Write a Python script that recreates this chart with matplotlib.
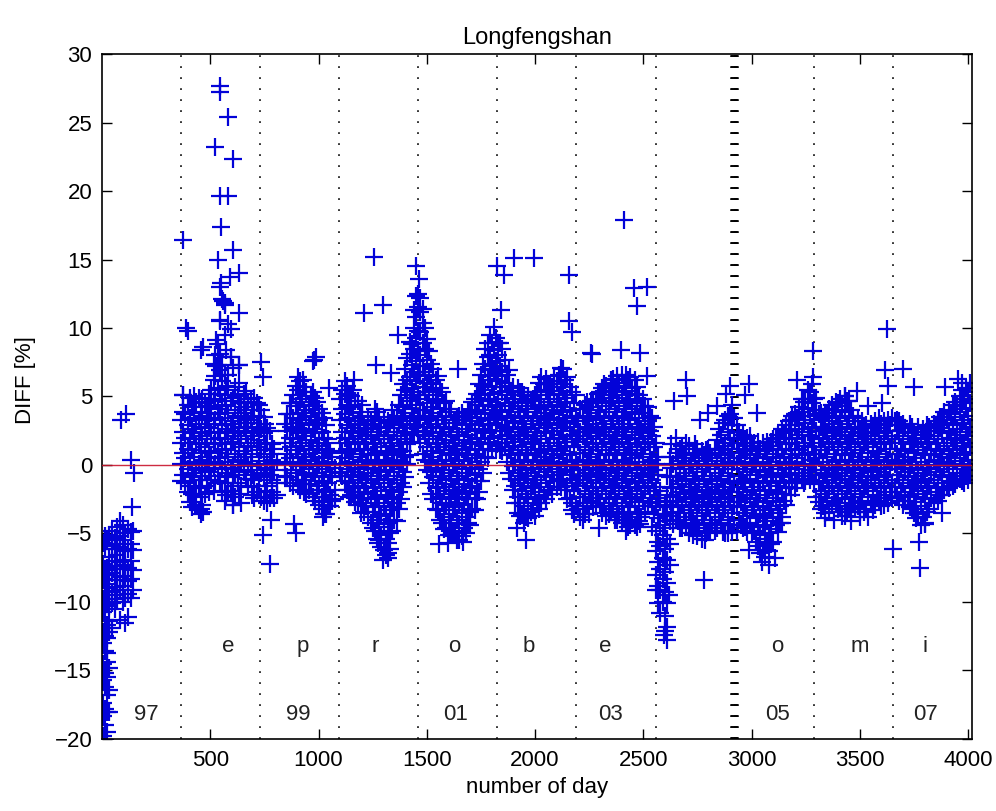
import matplotlib
matplotlib.use("Agg")
import matplotlib.pyplot as plt

# ---------------------------------------------------------------
# DIFF [%] readings grouped by year (day 0 = 1 January 1997);
# every day entry lists the values recorded around that day
# ---------------------------------------------------------------
days_1997 = [5, 12, 22, 32, 45, 58, 70, 82, 95, 108, 120, 132, 145]
diff_1997 = [
    [-19.8, -18.3, -17.4, -15.7, -14.5, -13.0, -12.2, -10.7, -9.8, -8.3, -7.2, -5.7],
    [-20.1, -19.0, -17.8, -16.2, -15.2, -13.6, -12.5, -11.3, -10.2, -9.0, -7.7, -6.1, -5.2],
    [-19.5, -18.0, -16.8, -15.5, -14.4, -13.7, -12.6, -11.7, -10.0, -8.7, -7.5, -5.5],
    [-18.0, -16.4, -14.8, -12.2, -11.4, -10.3, -9.2, -8.0, -6.7, -5.1],
    [-11.9, -10.1, -9.3, -7.9, -7.0, -5.9, -4.8],
    [-10.5, -9.5, -8.4, -7.4, -6.1, -5.3],
    [-9.8, -8.9, -7.6, -6.6, -5.8, -4.5],
    [-11.3, -9.1, -8.2, -7.1, -6.0, -5.2, -4.1],
    [-10.0, -8.8, -7.4, -6.9, -5.5, -4.4],
    [-11.5, -9.7, -8.1, -7.3, -6.3, -5.0],
    [-11.1, -9.4, -8.5, -7.5, -6.1, -4.7],
    [-9.7, -8.3, -7.0, -5.8, -4.9],
    [-9.1, -7.7, -6.2, -4.8],
]

days_1998 = [366, 376, 385, 396, 405, 414, 426, 435, 446, 455, 464, 476, 485, 494, 505,
             516, 524, 535, 546, 554, 566, 575, 584, 596, 605, 614, 626, 635, 644, 656,
             665, 674, 686, 695, 704, 716, 725, 734, 746, 755, 764, 776, 785, 794, 806]
diff_1998 = [
    [-1.2, 0.1, 1.6, 3.3], [-0.7, 0.9, 2.4, 3.9, 5.1], [-1.3, 0.5, 2.0, 3.7],
    [-2.0, -0.3, 1.2, 2.9, 4.4], [-2.7, -1.5, 0.2, 1.9, 3.4, 4.9], [-3.1, -2.1, -0.6, 1.1, 2.6, 4.2],
    [-2.2, -0.9, 0.6, 2.3, 3.8, 5.0], [-2.9, -1.7, -0.2, 1.5, 3.0, 4.6],
    [-3.3, -1.6, 0.1, 1.6, 3.3, 4.9], [-3.6, -2.3, -0.8, 0.9, 2.4, 3.9],
    [-2.9, -1.1, 0.4, 2.1, 3.6, 4.8], [-2.1, -0.4, 1.3, 2.8, 4.5],
    [-1.5, 0.2, 1.9, 3.4, 4.3], [-2.0, -0.5, 1.0, 2.7, 4.2, 5.2],
    [-1.1, 0.6, 2.3, 3.8, 5.5], [-1.9, -0.2, 1.5, 3.0, 4.7, 6.2, 7.4],
    [-1.3, 0.1, 1.6, 3.3, 4.8, 6.5, 8.0], [-0.8, 0.9, 2.4, 4.1, 5.6, 7.3, 8.8],
    [-1.2, 0.5, 2.0, 3.7, 5.2, 6.9, 8.1, 10.5], [-2.0, -0.3, 1.2, 2.9, 4.4, 6.1, 7.3, 12.1],
    [-2.6, -1.3, 0.2, 1.9, 3.4, 5.1, 6.6, 9.5, 11.8], [-2.2, -0.6, 1.1, 2.6, 4.3, 5.8, 8.4],
    [-1.9, -0.9, 0.6, 2.3, 3.8, 5.5, 6.6, 10.3], [-1.9, -0.2, 1.5, 3.0, 4.7, 7.9],
    [-2.9, -1.5, 0.0, 1.7, 3.2, 4.9, 7.1], [-2.3, -0.7, 0.8, 2.5, 4.0, 5.7],
    [-1.3, 0.4, 2.1, 3.6, 5.0], [-2.1, -0.4, 1.3, 2.8, 4.5, 6.0, 7.3],
    [-1.5, 0.2, 1.9, 3.4, 4.5], [-0.5, 1.0, 2.7, 4.2, 5.2], [-1.0, 0.6, 2.3, 3.8, 5.4],
    [-1.6, -0.1, 1.4, 3.1, 4.6], [-1.0, 0.1, 1.6, 3.3, 4.8], [-2.2, -0.7, 0.8, 2.5, 4.0],
    [-2.4, -1.1, 2.1, 3.6, 4.9], [-2.0, -0.4, 1.3, 2.8, 4.5], [-1.5, 0.3, 1.8, 3.5, 4.4],
    [-2.3, -0.6, 1.1, 2.6, 4.0], [-2.6, -0.9, 0.6, 2.3, 3.5], [-1.9, -0.2, 1.5, 3.0],
    [-2.8, -1.5, 0.1, 1.6, 2.7], [-2.4, -0.7, 0.8, 2.5], [-2.0, -1.1, 0.4, 1.5],
    [-2.4, -0.4, 1.2], [-2.2, -1.3, 0.2],
]

days_1999 = [846, 855, 866, 875, 884, 896, 905, 914, 926, 935, 944, 956, 965, 974, 986,
             995, 1004, 1016, 1025, 1034, 1046, 1055, 1064, 1074]
diff_1999 = [
    [-0.8, 0.1, 1.6, 3.0], [-0.9, 0.8, 2.5, 3.7], [-1.3, 0.5, 2.0, 3.7, 4.5],
    [-0.4, 1.3, 2.8, 4.5], [-1.5, 0.2, 1.9, 3.4, 5.1], [-0.6, 1.1, 2.6, 4.3, 5.8],
    [-1.1, 0.6, 2.3, 3.8, 5.5, 6.4], [-1.8, -0.1, 1.4, 3.1, 4.6, 6.1],
    [-1.4, 0.1, 1.6, 3.3, 4.8], [-2.0, -0.7, 0.8, 2.5, 4.0, 5.7],
    [-2.1, -1.1, 0.4, 2.1, 3.6, 5.3], [-1.8, -0.3, 1.2, 2.9, 4.4],
    [-1.4, 0.3, 1.8, 3.5, 5.0], [-2.3, -0.6, 1.1, 2.6, 4.3, 5.3],
    [-2.6, -0.9, 0.6, 2.3, 3.8, 4.9], [-1.8, -0.1, 1.4, 3.1, 4.6],
    [-2.9, -1.5, 0.1, 1.6, 3.3, 4.1], [-3.2, -2.3, -0.8, 0.9, 2.4, 3.8],
    [-3.6, -2.7, -1.2, 0.5, 2.0, 3.4], [-3.6, -2.0, -0.3, 1.2, 2.9],
    [-3.0, -1.3, 0.2, 1.9], [-3.0, -2.2, -0.5, 1.0], [-2.6, -0.9, 0.6],
    [-2.5, -1.8, -0.2],
]

days_2000 = [1100, 1109, 1121, 1130, 1139, 1151, 1160, 1169, 1181, 1190, 1199, 1211, 1220,
             1229, 1241, 1250, 1259, 1271, 1280, 1289, 1301, 1310, 1319, 1331, 1340, 1349,
             1361, 1370, 1379, 1391, 1400, 1409, 1421, 1430, 1439, 1451, 1458]
diff_2000 = [
    [-0.6, 0.1, 1.6, 3.3, 4.8], [-0.8, 0.9, 2.4, 4.1, 5.5], [-1.2, 0.5, 2.0, 3.7, 5.2, 6.1],
    [-1.8, -0.3, 1.2, 2.9, 4.4, 5.8], [-2.3, -1.3, 0.2, 1.9, 3.4, 5.1],
    [-2.2, -0.5, 1.0, 2.7, 4.2, 5.0], [-2.0, -0.9, 0.6, 2.3, 3.8, 5.5],
    [-2.7, -1.7, -0.2, 1.5, 3.0, 4.7], [-2.9, -1.5, 0.0, 1.7, 3.2, 4.7],
    [-2.4, -0.7, 0.8, 2.5, 3.9], [-2.8, -1.1, 0.4, 2.1, 3.6, 4.4],
    [-3.4, -2.0, -0.3, 1.2, 2.9], [-3.0, -1.3, 0.2, 1.9, 2.7],
    [-3.8, -2.1, -0.6, 1.1, 2.6, 3.5], [-4.2, -2.5, -1.0, 0.7, 2.2, 3.2],
    [-4.6, -3.4, -1.7, -0.2, 1.5, 3.0], [-4.8, -3.1, -1.6, 0.1, 1.6, 3.3, 4.1],
    [-5.4, -4.0, -2.3, -0.8, 0.9, 2.4, 3.9], [-5.5, -4.3, -2.8, -1.1, 0.4, 2.1, 3.5],
    [-6.0, -5.1, -3.6, -1.9, -0.4, 1.3, 2.8], [-6.2, -4.5, -3.0, -1.3, 0.2, 1.9, 3.3],
    [-6.6, -5.4, -3.7, -2.2, -0.5, 1.0, 2.7], [-6.4, -5.7, -4.2, -2.5, -1.0, 0.7, 2.2, 3.2],
    [-6.1, -5.0, -3.3, -1.8, -0.1, 1.4, 3.1], [-4.8, -3.1, -1.6, 0.1, 1.6, 3.3, 4.0],
    [-4.0, -2.3, -0.8, 0.9, 2.4, 3.3], [-4.1, -2.8, -1.1, 0.4, 2.1, 3.6],
    [-3.2, -2.0, -0.3, 1.2, 2.9, 4.4], [-2.5, -1.3, 0.2, 1.9, 3.4, 5.1],
    [-1.6, -0.5, 1.0, 2.7, 4.2, 5.9], [-0.9, 0.6, 2.3, 3.8, 5.5, 7.0],
    [0.1, 1.5, 3.0, 4.7, 6.2, 7.8], [0.7, 1.7, 3.2, 4.9, 6.4, 8.1, 9.0],
    [2.4, 4.1, 5.6, 7.3, 8.8], [2.2, 3.6, 5.3, 6.8, 8.5, 10.0, 11.3],
    [2.9, 4.4, 6.1, 7.6, 9.3, 10.8, 12.3], [2.4, 3.4, 5.1, 6.6, 8.3, 9.8, 11.5, 12.5],
]

days_2001 = [1469, 1481, 1490, 1499, 1511, 1520, 1529, 1541, 1550, 1559, 1571, 1580, 1589,
             1601, 1610, 1619, 1631, 1640, 1649, 1661, 1670, 1679, 1691, 1700, 1709, 1721,
             1730, 1739, 1751, 1760, 1769, 1781, 1790, 1799, 1811, 1820]
diff_2001 = [
    [1.6, 3.3, 4.8, 6.5, 8.0, 9.7, 11.2, 12.2], [0.8, 2.5, 4.0, 5.7, 7.2, 8.9, 10.4, 11.4],
    [0.4, 2.1, 3.6, 5.3, 6.8, 8.5, 10.0], [-0.4, 1.3, 2.8, 4.5, 6.0, 7.7, 9.2],
    [-1.3, 0.2, 1.9, 3.4, 5.1, 6.6, 8.3], [-2.1, -0.5, 1.0, 2.7, 4.2, 5.9, 7.4],
    [-2.5, -0.9, 0.6, 2.3, 3.8, 5.5, 7.0], [-3.2, -1.7, -0.2, 1.5, 3.0, 4.7, 6.2],
    [-3.3, -1.6, 0.1, 1.6, 3.3, 4.8, 6.5], [-4.0, -2.3, -0.8, 0.9, 2.4, 4.1, 5.6],
    [-4.2, -2.8, -1.1, 0.4, 2.1, 3.6, 5.3], [-4.7, -3.6, -1.9, -0.4, 1.3, 2.8, 4.5],
    [-4.6, -2.9, -1.4, 0.3, 1.8, 3.5, 4.7], [-5.1, -3.8, -2.1, -0.6, 1.1, 2.6, 4.1],
    [-5.1, -4.2, -2.5, -1.0, 0.7, 2.2, 3.9], [-5.0, -3.3, -1.8, -0.1, 1.4, 3.1],
    [-4.8, -3.1, -1.6, 0.1, 1.6, 3.3], [-5.5, -4.0, -2.3, -0.8, 0.9, 2.4, 3.5],
    [-5.5, -4.3, -2.8, -1.1, 0.4, 2.1, 3.6], [-5.2, -3.5, -2.0, -0.3, 1.2, 2.9, 3.8],
    [-4.6, -2.9, -1.4, 0.3, 1.8, 3.5], [-5.0, -3.8, -2.1, -0.6, 1.1, 2.6, 3.5],
    [-4.2, -2.5, -1.0, 0.7, 2.2, 3.9], [-4.4, -3.4, -1.7, -0.2, 1.5, 3.0, 4.0],
    [-3.2, -1.5, 0.0, 1.7, 3.2, 4.6], [-3.3, -2.4, -0.7, 0.8, 2.5, 4.0, 4.8],
    [-2.5, -1.2, 0.5, 2.0, 3.7, 5.2], [-2.0, -0.3, 1.2, 2.9, 4.4, 5.9],
    [-1.2, 0.2, 1.9, 3.4, 5.1, 6.6], [-0.6, 1.1, 2.6, 4.3, 5.8, 7.4],
    [0.6, 2.3, 3.8, 5.5, 7.0, 8.5], [0.5, 1.5, 3.0, 4.7, 6.2, 7.9, 8.9],
    [1.6, 3.3, 4.8, 6.5, 8.0, 9.5], [1.1, 2.5, 4.0, 5.7, 7.2, 8.9],
    [2.0, 3.7, 5.2, 6.9, 8.4, 10.1], [1.2, 2.9, 4.4, 6.1, 7.6, 9.3],
]

days_2002 = [1831, 1840, 1849, 1861, 1870, 1879, 1891, 1900, 1909, 1921, 1930, 1939, 1951,
             1960, 1969, 1981, 1990, 1999, 2011, 2020, 2029, 2041, 2050, 2059, 2071, 2080,
             2089, 2101, 2110, 2119, 2131, 2140, 2149, 2161, 2170, 2179, 2189]
diff_2002 = [
    [1.6, 3.3, 4.8, 6.5, 8.0, 8.9], [1.1, 2.5, 4.0, 5.7, 7.2, 8.9], [1.0, 2.1, 3.6, 5.3, 6.8, 8.5],
    [1.3, 2.8, 4.5, 6.0, 7.7], [0.2, 1.9, 3.4, 5.1, 6.6], [-0.6, 1.1, 2.6, 4.3, 5.8, 6.9],
    [-1.0, 0.7, 2.2, 3.9, 5.4], [-1.8, -0.1, 1.4, 3.1, 4.6, 5.7],
    [-2.8, -1.5, 0.0, 1.7, 3.2, 4.8], [-3.5, -2.3, -0.8, 0.9, 2.4, 4.1, 5.6],
    [-3.7, -2.8, -1.1, 0.4, 2.1, 3.6, 5.3], [-3.6, -1.9, -0.4, 1.3, 2.8, 4.5, 5.3],
    [-4.2, -3.0, -1.3, 0.2, 1.9, 3.4, 5.1], [-3.8, -2.1, -0.6, 1.1, 2.6, 4.3],
    [-3.9, -2.5, -1.0, 0.7, 2.2, 3.9, 5.0], [-3.4, -1.7, -0.2, 1.5, 3.0, 4.7],
    [-3.2, -1.5, 0.0, 1.7, 3.2, 4.8], [-3.7, -2.3, -0.8, 0.9, 2.4, 4.1, 5.1],
    [-2.8, -1.1, 0.4, 2.1, 3.6, 5.3], [-3.2, -2.0, -0.3, 1.2, 2.9, 4.4, 6.0],
    [-2.8, -1.3, 0.2, 1.9, 3.4, 5.1, 6.4], [-2.2, -0.5, 1.0, 2.7, 4.2, 5.9],
    [-2.5, -0.9, 0.6, 2.3, 3.8, 5.5, 6.3], [-1.8, -0.1, 1.4, 3.1, 4.6, 5.9],
    [-1.6, 0.1, 1.6, 3.3, 4.8, 5.9], [-2.1, -0.7, 0.8, 2.5, 4.0, 5.7],
    [-1.2, 0.5, 2.0, 3.7, 5.2, 6.5], [-1.6, -0.3, 1.2, 2.9, 4.4, 6.1],
    [-1.2, 0.2, 1.9, 3.4, 5.1, 6.6], [-1.6, -0.5, 1.0, 2.7, 4.2, 5.9, 7.1],
    [-1.0, 0.7, 2.2, 3.9, 5.4, 7.0], [-1.8, -0.1, 1.4, 3.1, 4.6, 6.2],
    [-2.5, -1.5, 0.0, 1.7, 3.2, 4.9, 6.4], [-2.4, -0.7, 0.8, 2.5, 4.0, 5.7],
    [-2.8, -1.1, 0.4, 2.1, 3.6, 5.3], [-3.6, -1.9, -0.4, 1.3, 2.8, 4.5],
    [-3.0, -1.3, 0.2, 1.9, 3.4, 5.1],
]

days_2003 = [2200, 2209, 2221, 2230, 2239, 2251, 2260, 2269, 2281, 2290, 2299, 2311, 2320,
             2329, 2341, 2350, 2359, 2371, 2380, 2389, 2401, 2410, 2419, 2431, 2440, 2449,
             2461, 2470, 2479, 2491, 2500, 2509, 2521, 2530, 2539, 2550]
diff_2003 = [
    [-3.2, -1.5, 0.0, 1.7, 3.2], [-3.8, -2.3, -0.8, 0.9, 2.4, 4.1],
    [-4.0, -2.8, -1.1, 0.4, 2.1, 3.6], [-3.6, -1.9, -0.4, 1.3, 2.8, 4.4],
    [-3.0, -1.3, 0.2, 1.9, 3.4, 4.6], [-3.6, -2.1, -0.6, 1.1, 2.6, 4.2],
    [-2.6, -0.9, 0.6, 2.3, 3.8, 4.7], [-3.1, -1.7, -0.2, 1.5, 3.0, 4.6],
    [-2.8, -1.6, 0.1, 1.6, 3.3, 4.8], [-2.4, -0.7, 0.8, 2.5, 4.0, 5.2],
    [-2.8, -1.1, 0.4, 2.1, 3.6, 5.3], [-3.5, -1.9, -0.4, 1.3, 2.8, 4.5, 5.6],
    [-3.0, -1.3, 0.2, 1.9, 3.4, 5.1, 5.9], [-3.7, -2.1, -0.6, 1.1, 2.6, 4.3, 5.8],
    [-3.6, -2.5, -1.0, 0.7, 2.2, 3.9, 5.4], [-3.4, -1.7, -0.2, 1.5, 3.0, 4.7, 6.0],
    [-3.2, -1.5, 0.0, 1.7, 3.2, 4.9, 6.3], [-4.0, -2.3, -0.8, 0.9, 2.4, 4.1, 5.6],
    [-4.0, -2.8, -1.1, 0.4, 2.1, 3.6, 5.3, 6.5], [-3.6, -1.9, -0.4, 1.3, 2.8, 4.5, 6.0],
    [-4.2, -3.0, -1.3, 0.2, 1.9, 3.4, 5.1, 6.6], [-3.8, -2.1, -0.6, 1.1, 2.6, 4.3, 5.8],
    [-4.2, -2.5, -1.0, 0.7, 2.2, 3.9, 5.4, 6.6], [-4.5, -3.4, -1.7, -0.2, 1.5, 3.0, 4.7, 6.2],
    [-4.4, -3.1, -1.6, 0.1, 1.6, 3.3, 4.8, 6.4], [-4.0, -2.3, -0.8, 0.9, 2.4, 4.1, 5.6],
    [-4.4, -2.7, -1.2, 0.5, 2.0, 3.7, 5.2, 6.2], [-4.5, -3.6, -1.9, -0.4, 1.3, 2.8, 4.5, 5.7],
    [-4.1, -3.0, -1.3, 0.2, 1.9, 3.4, 5.1], [-3.8, -2.1, -0.6, 1.1, 2.6, 4.3],
    [-2.6, -0.9, 0.6, 2.3, 3.8, 4.8], [-3.4, -1.7, -0.2, 1.5, 3.0, 4.3],
    [-3.0, -1.5, 0.0, 1.7, 3.2, 4.2], [-2.4, -0.7, 0.8, 2.5, 3.6],
    [-2.8, -1.1, 0.4, 2.1, 3.4], [-3.6, -1.9, -0.4, 1.3, 2.8],
]

days_2004 = [2560, 2570, 2579, 2591, 2600, 2609, 2621, 2630, 2639, 2651, 2660, 2669, 2681,
             2690, 2699, 2711, 2720, 2729, 2741, 2750, 2759, 2771, 2780, 2789, 2801, 2810,
             2819, 2831, 2840, 2849, 2861, 2870, 2879, 2891, 2900, 2909, 2920]
diff_2004 = [
    [-9.1, -8.0, -6.3, -4.8, -3.1, -1.6, 0.1, 1.6], [-10.1, -8.8, -7.1, -5.6, -3.9, -2.4, -0.7, 0.6],
    [-10.8, -9.1, -7.6, -5.9, -4.4, -2.7, -1.9], [-10.0, -8.3, -6.8, -5.1, -3.6],
    [-12.1, -11.0, -9.3, -7.8, -6.1, -4.6, -2.9],
    [-12.8, -11.8, -10.1, -8.6, -6.9, -5.4, -3.7, -2.2, -0.8],
    [-7.3, -5.8, -4.1, -2.6, -0.9, 0.6], [-3.4, -1.7, -0.2, 1.5],
    [-4.3, -3.1, -1.6, 0.1], [-4.0, -2.3, -0.8, 0.9, 2.0], [-4.1, -2.7, -1.2, 0.5],
    [-4.6, -3.5, -2.0, -0.3, 1.2], [-4.6, -2.9, -1.4, 0.3, 1.4], [-3.8, -2.1, -0.6, 0.7],
    [-4.2, -2.5, -1.0, 0.7, 1.6], [-5.0, -3.3, -1.8, -0.1, 1.4], [-4.5, -3.1, -1.6, 0.1],
    [-5.1, -4.0, -2.3, -0.8, 0.9], [-4.4, -2.7, -1.2, 0.5, 1.5], [-5.2, -3.5, -2.0, -0.3, 1.2],
    [-4.6, -2.9, -1.4, 0.3], [-5.4, -3.7, -2.2, -0.5, 1.0], [-4.2, -2.5, -1.0, 0.7],
    [-5.0, -3.3, -1.8, -0.1, 1.1], [-4.8, -3.1, -1.6, 0.1, 1.2], [-4.9, -4.0, -2.3, -0.8, 0.9],
    [-4.4, -2.7, -1.2, 0.5], [-4.8, -3.5, -2.0, -0.3, 1.2], [-4.6, -2.9, -1.4, 0.3, 1.8],
    [-3.8, -2.1, -0.6, 1.1, 2.6], [-4.2, -2.5, -1.0, 0.7, 2.2],
    [-4.9, -3.3, -1.8, -0.1, 1.4, 3.1], [-4.8, -3.1, -1.6, 0.1, 1.6, 3.3],
    [-5.0, -4.0, -2.3, -0.8, 0.9, 2.4, 3.6], [-4.4, -2.7, -1.2, 0.5, 2.0, 3.7],
    [-4.9, -3.5, -2.0, -0.3, 1.2, 2.9, 4.4], [-4.4, -3.0, -1.3, 0.2, 1.9, 3.4],
]

days_2005 = [2931, 2940, 2949, 2961, 2970, 2979, 2991, 3000, 3009, 3021, 3030, 3039, 3051,
             3060, 3069, 3081, 3090, 3099, 3111, 3120, 3129, 3141, 3150, 3159, 3171, 3180,
             3189, 3201, 3210, 3219, 3231, 3240, 3249, 3261, 3270, 3279]
diff_2005 = [
    [-4.8, -3.1, -1.6, 0.1, 1.6, 2.9], [-4.0, -2.3, -0.8, 0.9, 2.4], [-4.4, -2.7, -1.2, 0.5, 2.0],
    [-4.6, -3.5, -2.0, -0.3, 1.2, 2.2], [-4.5, -3.0, -1.3, 0.2, 1.9],
    [-4.9, -3.7, -2.2, -0.5, 1.0, 2.0], [-4.2, -2.5, -1.0, 0.7, 2.1],
    [-5.0, -3.3, -1.8, -0.1, 1.4], [-4.8, -3.1, -1.6, 0.1, 1.6], [-5.6, -3.9, -2.4, -0.7, 0.8],
    [-5.9, -4.4, -2.7, -1.2, 0.5, 1.7], [-6.4, -5.1, -3.6, -1.9, -0.4, 1.2],
    [-6.2, -4.5, -3.0, -1.3, 0.2, 1.6], [-6.7, -5.4, -3.7, -2.2, -0.5, 1.0],
    [-5.8, -4.1, -2.6, -0.9, 0.6, 1.7], [-6.3, -5.0, -3.3, -1.8, -0.1, 1.4],
    [-5.8, -4.7, -3.2, -1.5, 0.0, 1.7], [-5.6, -3.9, -2.4, -0.7, 0.8, 1.9],
    [-4.4, -2.7, -1.2, 0.5, 2.0], [-4.9, -3.5, -2.0, -0.3, 1.2, 2.2],
    [-4.2, -3.0, -1.3, 0.2, 1.9], [-3.8, -2.1, -0.6, 1.1, 2.6], [-2.6, -0.9, 0.6, 2.3],
    [-2.9, -1.7, -0.2, 1.5, 2.9], [-1.6, 0.1, 1.6, 3.2], [-2.2, -0.7, 0.8, 2.5, 3.3],
    [-1.2, 0.5, 2.0, 3.6], [-1.7, -0.3, 1.2, 2.9, 3.7], [-1.3, 0.2, 1.9, 3.4],
    [-0.6, 1.1, 2.6, 4.2], [-1.0, 0.7, 2.2, 3.9, 4.8], [-1.3, -0.1, 1.4, 3.1, 4.6],
    [-1.2, 0.1, 1.6, 3.3, 4.8], [-0.8, 0.9, 2.4, 4.1, 5.5], [-1.1, 0.4, 2.1, 3.6, 5.3],
    [-0.4, 1.3, 2.8, 4.5, 5.9],
]

days_2006 = [3290, 3299, 3311, 3320, 3329, 3341, 3350, 3359, 3371, 3380, 3389, 3401, 3410,
             3419, 3431, 3440, 3449, 3461, 3470, 3479, 3491, 3500, 3509, 3521, 3530, 3539,
             3551, 3560, 3569, 3581, 3590, 3599, 3611, 3620, 3629, 3641, 3650]
diff_2006 = [
    [-1.4, 0.1, 1.6, 3.3, 4.8], [-2.3, -0.7, 0.8, 2.5, 4.0, 4.9], [-2.7, -1.2, 0.5, 2.0, 3.7],
    [-3.2, -1.9, -0.4, 1.3, 2.8, 3.8], [-3.0, -1.3, 0.2, 1.9, 3.4],
    [-3.5, -2.1, -0.6, 1.1, 2.6, 3.8], [-2.6, -0.9, 0.6, 2.3, 3.8],
    [-3.4, -1.7, -0.2, 1.5, 3.0, 4.1], [-2.9, -1.5, 0.0, 1.7, 3.2, 4.4],
    [-2.4, -0.7, 0.8, 2.5, 4.0], [-2.8, -1.1, 0.4, 2.1, 3.6, 4.6],
    [-3.2, -1.9, -0.4, 1.3, 2.8, 4.5], [-3.0, -1.3, 0.2, 1.9, 3.4, 4.8],
    [-3.7, -2.1, -0.6, 1.1, 2.6, 4.3], [-3.7, -2.5, -1.0, 0.7, 2.2, 3.9, 5.0],
    [-3.4, -1.7, -0.2, 1.5, 3.0, 4.7], [-3.2, -1.5, 0.0, 1.7, 3.2, 4.7],
    [-3.4, -2.3, -0.8, 0.9, 2.4, 4.0], [-2.8, -1.1, 0.4, 2.1, 3.6],
    [-3.1, -1.9, -0.4, 1.3, 2.8], [-3.0, -1.3, 0.2, 1.9, 3.4], [-3.4, -2.1, -0.6, 1.1, 2.6],
    [-2.6, -0.9, 0.6, 2.3, 3.2], [-3.4, -1.7, -0.2, 1.5, 2.8], [-3.2, -1.5, 0.0, 1.7, 2.9],
    [-3.8, -2.3, -0.8, 0.9, 2.4], [-2.8, -1.1, 0.4, 2.1, 3.0], [-3.3, -1.9, -0.4, 1.3, 2.8],
    [-2.9, -1.3, 0.2, 1.9, 3.2], [-2.2, -0.5, 1.0, 2.7], [-2.6, -0.9, 0.6, 2.3, 3.4],
    [-3.0, -1.7, -0.2, 1.5, 3.0], [-2.9, -1.5, 0.0, 1.7, 3.2], [-2.4, -0.7, 0.8, 2.5],
    [-2.8, -1.1, 0.4, 2.1, 3.3], [-2.0, -0.3, 1.2, 2.9], [-2.4, -1.3, 0.2, 1.9, 3.4],
]

days_2007 = [3661, 3670, 3679, 3691, 3700, 3709, 3721, 3730, 3739, 3751, 3760, 3769, 3781,
             3790, 3799, 3811, 3820, 3829, 3841, 3850, 3859, 3871, 3880, 3889, 3901, 3910,
             3919, 3931, 3940, 3949, 3961, 3970, 3979, 3991, 4000, 4010]
diff_2007 = [
    [-1.6, 0.1, 1.6, 3.2], [-2.3, -0.7, 0.8, 2.5, 3.3], [-2.6, -1.1, 0.4, 2.1, 3.2],
    [-2.0, -0.3, 1.2, 2.9], [-2.9, -1.3, 0.2, 1.9, 3.0], [-2.2, -0.5, 1.0, 2.7],
    [-2.6, -0.9, 0.6, 2.3], [-3.1, -1.7, -0.2, 1.5, 3.0], [-3.2, -1.5, 0.0, 1.7, 2.8],
    [-3.5, -2.3, -0.8, 0.9, 2.4], [-3.9, -2.7, -1.2, 0.5, 2.0], [-3.6, -1.9, -0.4, 1.3, 2.8],
    [-4.4, -3.0, -1.3, 0.2, 1.9], [-3.8, -2.1, -0.6, 1.1, 2.6], [-4.2, -2.5, -1.0, 0.7, 2.2],
    [-3.4, -1.7, -0.2, 1.5, 2.9], [-3.2, -1.5, 0.0, 1.7, 2.8], [-2.4, -0.7, 0.8, 2.5],
    [-2.8, -1.1, 0.4, 2.1, 3.0], [-2.0, -0.3, 1.2, 2.9], [-2.6, -1.3, 0.2, 1.9, 3.2],
    [-2.2, -0.5, 1.0, 2.7, 3.5], [-2.2, -0.9, 0.6, 2.3, 3.5], [-1.8, -0.1, 1.4, 3.1, 3.9],
    [-1.6, 0.1, 1.6, 3.3], [-1.7, -0.7, 0.8, 2.5, 4.0], [-1.2, 0.5, 2.0, 3.7],
    [-1.5, -0.3, 1.2, 2.9, 4.4], [-1.4, 0.3, 1.8, 3.5, 4.6], [-0.6, 1.1, 2.6, 4.3],
    [-1.0, 0.7, 2.2, 3.9, 5.0], [-1.2, -0.1, 1.4, 3.1, 4.6, 5.5], [-1.3, 0.1, 1.6, 3.3, 4.8],
    [-0.8, 0.9, 2.4, 4.1, 5.6], [-1.1, 0.4, 2.1, 3.6, 5.3], [-0.4, 1.3, 2.8, 4.5, 6.0],
]

# isolated readings away from the seasonal band
outlier_days = [90, 112, 136, 150, 140,
                374, 389, 397, 374, 466, 458, 527, 527, 535, 543, 543, 581, 520, 604, 543,
                581, 551, 604, 589, 635, 543, 558, 635, 543, 597, 551, 566, 597, 635, 735,
                743, 466, 458, 604, 643, 781, 743, 774,
                889, 896, 1019, 981, 990, 973, 1050, 927,
                1258, 1211, 1296, 1365, 1265, 1334, 1165, 1319, 1273, 1196, 1300,
                1450, 1465, 1642, 1557, 1665, 1600,
                1826, 1857, 1842, 1903, 1996, 2157, 2157, 2172, 1957, 2172, 1915,
                2410, 2457, 2518, 2472, 2257, 2264, 2395, 2487, 2518, 2349, 2295, 2418,
                2487, 2542,
                2779, 2787, 2695, 2902, 2640, 2700, 2760, 2800, 2840, 2880, 2595, 2620,
                2987, 2971, 3025, 2987, 3048, 3110, 3079, 2879, 3210, 3140,
                3286, 3286, 3486, 3540, 3432, 3602, 3340, 3380, 3460, 3500,
                3625, 3617, 3701, 3632, 3748, 3894, 3955, 3970, 3655, 3771, 3778, 3878, 3801]
outlier_diff = [3.3, 3.7, 0.4, -0.6, -3.1,
                16.4, 10.0, 9.8, 5.1, 8.6, 8.4, 9.1, 7.2, 15.0, 27.7, 27.2, 25.4, 23.2, 22.3, 19.6,
                19.6, 17.4, 15.7, 13.7, 14.0, 13.0, 12.0, 11.1, 10.6, 9.9, 13.3, 11.7, 7.9, 7.3, 7.5,
                6.4, -3.4, -3.2, -2.9, -2.8, -4.0, -5.1, -7.2,
                -4.3, -5.0, -3.8, 7.7, 7.9, 7.6, 5.6, 6.2,
                15.2, 11.1, 11.7, 9.5, 7.3, 6.7, 6.2, -6.8, -5.7, -3.5, -6.9,
                14.5, 13.6, 7.0, -5.8, -5.6, -5.7,
                14.5, 13.9, 11.3, 15.1, 15.1, 13.9, 10.5, 9.7, -5.5, -3.3, -4.6,
                17.9, 12.9, 13.0, 11.6, 8.2, 8.1, 8.4, 8.2, 6.5, 6.2, -4.6, -4.8,
                -4.3, -4.5,
                -8.4, -5.5, 6.2, 5.8, 4.7, 5.0, 3.3, 3.8, 4.3, 5.2, -12.4, -9.5,
                5.9, 5.1, 3.8, -6.2, -7.1, -6.8, -7.3, -5.0, 6.2, -4.2,
                8.3, 6.4, 5.4, 4.3, 5.0, 4.5, -3.9, -4.0, -4.1, -3.8,
                9.9, 6.9, 7.0, 5.8, 5.7, 5.7, 6.3, 6.0, -6.1, -5.6, -7.5, -3.5, -4.3]

# year boundaries (day index of 1 January) and annotations
year_starts = [365, 730, 1096, 1461, 1826, 2191, 2557, 3287, 3652]
break_day = 2922
season_letters = ['e', 'p', 'r', 'o', 'b', 'e', 'o', 'm', 'i']
season_letter_days = [583, 929, 1261, 1626, 1972, 2326, 3119, 3502, 3802]
year_labels = ['97', '99', '01', '03', '05', '07']
year_label_days = [205, 906, 1635, 2349, 3119, 3802]
x_ticks = [500, 1000, 1500, 2000, 2500, 3000, 3500, 4000]
y_ticks = [-20, -15, -10, -5, 0, 5, 10, 15, 20, 25, 30]

groups = [(days_1997, diff_1997), (days_1998, diff_1998), (days_1999, diff_1999),
          (days_2000, diff_2000), (days_2001, diff_2001), (days_2002, diff_2002),
          (days_2003, diff_2003), (days_2004, diff_2004), (days_2005, diff_2005),
          (days_2006, diff_2006), (days_2007, diff_2007)]
x_all, y_all = [], []
for days, diffs in groups:
    for d, vals in zip(days, diffs):
        x_all.extend([d] * len(vals))
        y_all.extend(vals)
x_all.extend(outlier_days)
y_all.extend(outlier_diff)

plt.rcParams['font.family'] = ['Liberation Sans', 'DejaVu Sans']
FS = 16

fig = plt.figure(figsize=(9.96, 8.11), dpi=100)
ax = fig.add_axes([0.1024, 0.0888, 0.8735, 0.8446])

dotted = (0, (1.2, 6.0))
for d in year_starts:
    ax.axvline(d, color='black', lw=1.1, linestyle=dotted, zorder=1)
# the 2005 boundary is drawn as a wide band of dots
for k in range(-6, 7):
    ax.axvline(break_day + 2.6 * k, color='black', lw=1.1, linestyle=dotted, zorder=1)

ax.plot(x_all, y_all, linestyle='none', marker='+', markersize=12.5,
        markeredgewidth=1.6, color='#0303d8', zorder=2)

ax.axhline(0, color='#c8142c', lw=1.0, alpha=0.9, zorder=3)

for s, d in zip(season_letters, season_letter_days):
    ax.text(d, -13.65, s, ha='center', va='baseline', fontsize=FS, color='#222222')
for s, d in zip(year_labels, year_label_days):
    ax.text(d, -18.6, s, ha='center', va='baseline', fontsize=FS, color='#222222')

ax.set_xlim(0, 4018)
ax.set_ylim(-20, 30)
ax.set_xticks(x_ticks)
ax.set_yticks(y_ticks)
ax.tick_params(direction='in', top=True, right=True, length=7, width=1.0,
               labelsize=FS, colors='black')
ax.tick_params(axis='x', pad=8)
ax.tick_params(axis='y', pad=7)
for sp in ax.spines.values():
    sp.set_linewidth(1.2)

ax.set_title('Longfengshan', fontsize=17, pad=7)
ax.set_xlabel('number of day', fontsize=FS, labelpad=4)
ax.set_ylabel('DIFF [%]', fontsize=FS)
ax.yaxis.set_label_coords(-0.076, 0.524)

fig.savefig('out.png', dpi=100)
